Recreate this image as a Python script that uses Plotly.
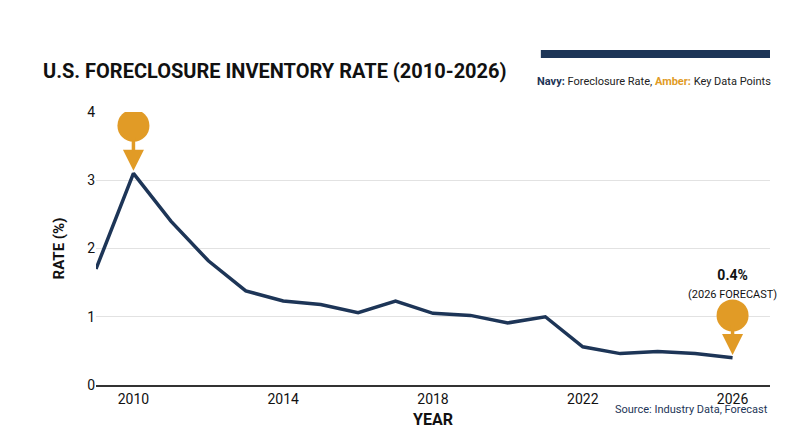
import plotly.graph_objects as go

years = list(range(2009, 2027))
rates = [1.7, 3.1, 2.4, 1.82, 1.38, 1.23, 1.18, 1.06, 1.23, 1.05, 1.02, 0.91, 1.0, 0.56, 0.46, 0.49, 0.46, 0.4]
tick_years = [2010, 2014, 2018, 2022, 2026]

navy = "#1d3557"
amber = "#e19b26"
font = "Roboto"

fig = go.Figure()
fig.add_trace(go.Scatter(x=years, y=rates, mode="lines",
                         line=dict(color=navy, width=3.5), hoverinfo="skip"))
# amber callout circles
fig.add_trace(go.Scatter(x=[2010, 2026], y=[3.8, 1.02], mode="markers",
                         marker=dict(color=amber, size=32), hoverinfo="skip"))

for x, y0, y1 in [(2010, 3.65, 3.14), (2026, 0.9, 0.44)]:
    fig.add_annotation(x=x, y=y1, ax=x, ay=y0, axref="x", ayref="y",
                       showarrow=True, arrowhead=2, arrowsize=1.2,
                       arrowwidth=3.5, arrowcolor=amber, text="")

fig.add_annotation(x=2010.5, y=4.02, xanchor="left", yanchor="top", align="left",
                   showarrow=False,
                   text="<b>OVER 3%</b><br><span style='font-size:11px'>(HISTORICAL PEAK)</span>",
                   font=dict(family=font, size=14, color="#111"))
fig.add_annotation(x=2026, y=1.2, xanchor="center", yanchor="bottom", align="center",
                   showarrow=False,
                   text="<b>0.4%</b><br><span style='font-size:11px'>(2026 FORECAST)</span>",
                   font=dict(family=font, size=14, color="#111"))

fig.add_annotation(x=-0.082, y=1.2, xref="paper", yref="paper", xanchor="left",
                   showarrow=False, text="<b>U.S. FORECLOSURE INVENTORY RATE (2010-2026)</b>",
                   font=dict(family=font, size=20, color="#111"))
fig.add_shape(type="line", xref="paper", yref="paper", x0=0.66, x1=1.0,
              y0=1.212, y1=1.212, line=dict(color=navy, width=8))
fig.add_annotation(x=1.005, y=1.143, xref="paper", yref="paper", xanchor="right",
                   showarrow=False,
                   text=f"<b><span style='color:{navy}'>Navy:</span></b> Foreclosure Rate, "
                        f"<b><span style='color:{amber}'>Amber:</span></b> Key Data Points",
                   font=dict(family=font, size=11, color="#222"))
fig.add_annotation(x=1.0, y=-0.12, xref="paper", yref="paper", xanchor="right",
                   showarrow=False, text="Source: Industry Data, Forecast",
                   font=dict(family=font, size=11, color=navy))

fig.update_layout(
    width=800, height=447, showlegend=False,
    plot_bgcolor="white", paper_bgcolor="white",
    margin=dict(l=88, r=38, t=104, b=70),
    font=dict(family=font, size=14, color="#111"),
    xaxis=dict(range=[2009, 2027], tickvals=tick_years, showgrid=False,
               showline=True, linecolor="#333", linewidth=1.5, ticks="",
               title=dict(text="<b>YEAR</b>", standoff=8, font=dict(size=16)),
               zeroline=False),
    yaxis=dict(range=[0, 4], dtick=1, gridcolor="#e2e2e2", zeroline=False,
               title=dict(text="<b>RATE (%)</b>", standoff=18, font=dict(size=15))),
)

fig.write_html("out.html")
